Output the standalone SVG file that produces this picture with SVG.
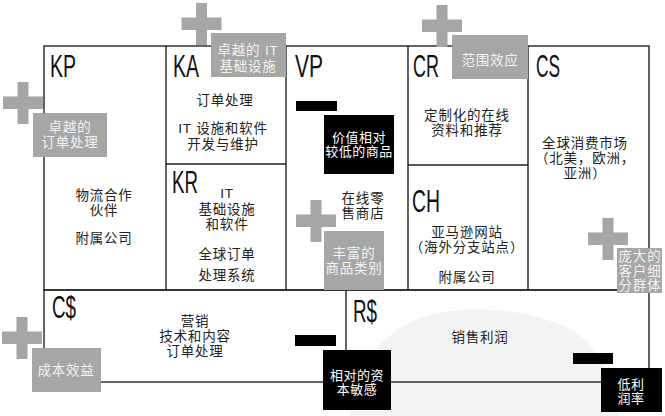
<svg xmlns="http://www.w3.org/2000/svg" xmlns:xlink="http://www.w3.org/1999/xlink" width="665" height="416" viewBox="0 0 665 416">
<style>
.line{fill:none;stroke:#222;stroke-width:1.4}
.hd{font-family:"Liberation Sans",Arial,sans-serif;font-size:32px;fill:#111}
.t{font-family:"Liberation Sans","Noto Sans CJK SC",sans-serif;font-size:13.5px;fill:#222;text-anchor:middle;letter-spacing:0.8px}
.gt{font-family:"Liberation Sans","Noto Sans CJK SC",sans-serif;font-size:13.5px;fill:#f2f2f2;text-anchor:middle;letter-spacing:0.8px}
.bt{font-family:"Liberation Sans","Noto Sans CJK SC",sans-serif;font-size:13px;fill:#fff;text-anchor:middle;letter-spacing:0.5px}
.gray{fill:#a6a6a6}
.blk{fill:#000}
</style>
<defs>
<path id="plus" d="M-5.5,-21 h11 v14.5 h14.5 v12.5 h-14.5 v15 h-11 v-15 h-14.5 v-12.5 h14.5 z"/>
</defs>
<rect width="665" height="416" fill="#fff"/>
<path d="M350,416 C354,372 378,334 420,318 C468,302 530,310 568,328 C600,345 616,380 618,416 Z" fill="#f3f3f3"/>

<g id="connectors">
<rect class="line" x="44" y="46" width="605" height="244"/>
<rect class="line" x="44" y="290" width="605" height="92"/>
<line class="line" x1="166" y1="46" x2="166" y2="290"/>
<line class="line" x1="286" y1="46" x2="286" y2="290"/>
<line class="line" x1="408" y1="46" x2="408" y2="290"/>
<line class="line" x1="528" y1="46" x2="528" y2="290"/>
<line class="line" x1="166" y1="164" x2="286" y2="164"/>
<line class="line" x1="408" y1="165" x2="528" y2="165"/>
<line class="line" x1="346" y1="290" x2="346" y2="382"/>
</g>

<g id="kp">
<text class="hd" x="50" y="77" textLength="26" lengthAdjust="spacingAndGlyphs">KP</text>
<text class="t" x="104" y="200">物流合作</text>
<text class="t" x="104" y="215">伙伴</text>
<text class="t" x="104" y="243">附属公司</text>
<use xlink:href="#plus" href="#plus" class="gray" x="23" y="103"/>
<rect class="gray" x="33" y="113" width="74" height="44"/>
<text class="gt" x="70" y="132">卓越的</text>
<text class="gt" x="70" y="147">订单处理</text>
</g>

<g id="ka">
<text class="hd" x="173" y="77" textLength="26" lengthAdjust="spacingAndGlyphs">KA</text>
<text class="t" x="225" y="105">订单处理</text>
<text class="t" x="223" y="133">IT 设施和软件</text>
<text class="t" x="223" y="149">开发与维护</text>
<use xlink:href="#plus" href="#plus" class="gray" x="201.5" y="24"/>
<rect class="gray" x="211" y="33" width="75" height="44"/>
<text class="gt" x="248" y="55">卓越的 IT</text>
<text class="gt" x="248" y="71">基础设施</text>
</g>

<g id="kr">
<text class="hd" x="172" y="193" textLength="26" lengthAdjust="spacingAndGlyphs">KR</text>
<text class="t" x="227" y="198">IT</text>
<text class="t" x="227" y="214">基础设施</text>
<text class="t" x="227" y="229">和软件</text>
<text class="t" x="227" y="259">全球订单</text>
<text class="t" x="227" y="280">处理系统</text>
</g>

<g id="vp">
<text class="hd" x="295" y="77" textLength="28" lengthAdjust="spacingAndGlyphs">VP</text>
<rect class="blk" x="296" y="101" width="41" height="10"/>
<rect class="blk" x="324" y="115" width="70" height="59"/>
<text class="bt" x="359" y="142">价值相对</text>
<text class="bt" x="359" y="156">较低的商品</text>
<text class="t" x="363" y="203">在线零</text>
<text class="t" x="363" y="218">售商店</text>
<use xlink:href="#plus" href="#plus" class="gray" x="316" y="221"/>
<rect class="gray" x="324" y="231" width="60" height="59"/>
<text class="gt" x="354" y="258">丰富的</text>
<text class="gt" x="354" y="273">商品类别</text>
</g>

<g id="cr">
<text class="hd" x="413" y="77" textLength="26" lengthAdjust="spacingAndGlyphs">CR</text>
<text class="t" x="467" y="120">定制化的在线</text>
<text class="t" x="467" y="135">资料和推荐</text>
<use xlink:href="#plus" href="#plus" class="gray" x="442" y="26"/>
<rect class="gray" x="452" y="35" width="76" height="44"/>
<text class="gt" x="490" y="65">范围效应</text>
</g>

<g id="ch">
<text class="hd" x="412" y="212" textLength="28" lengthAdjust="spacingAndGlyphs">CH</text>
<text class="t" x="467" y="237">亚马逊网站</text>
<text class="t" x="467" y="252">（海外分支站点）</text>
<text class="t" x="467" y="282">附属公司</text>
</g>

<g id="cs">
<text class="hd" x="536" y="77" textLength="24" lengthAdjust="spacingAndGlyphs">CS</text>
<text class="t" x="585" y="148">全球消费市场</text>
<text class="t" x="585" y="163">（北美，欧洲，</text>
<text class="t" x="585" y="178">亚洲）</text>
<use xlink:href="#plus" href="#plus" class="gray" x="608" y="239"/>
<rect class="gray" x="617" y="248" width="45" height="45"/>
<text class="gt" x="640" y="261">庞大的</text>
<text class="gt" x="640" y="275.5">客户细</text>
<text class="gt" x="640" y="290">分群体</text>
</g>

<g id="cost">
<text class="hd" x="52" y="318" textLength="24" lengthAdjust="spacingAndGlyphs">C$</text>
<text class="t" x="195" y="326">营销</text>
<text class="t" x="195" y="341">技术和内容</text>
<text class="t" x="195" y="356">订单处理</text>
<rect class="blk" x="295" y="335" width="41" height="11"/>
<use xlink:href="#plus" href="#plus" class="gray" x="22" y="338"/>
<rect class="gray" x="32" y="348" width="69" height="44"/>
<text class="gt" x="66" y="375">成本效益</text>
</g>

<g id="revenue">
<text class="hd" x="353" y="322" textLength="24" lengthAdjust="spacingAndGlyphs">R$</text>
<text class="t" x="480" y="342">销售利润</text>
<rect class="blk" x="573" y="353" width="40" height="11"/>
<rect class="blk" x="323" y="350" width="68" height="60"/>
<text class="bt" x="357" y="380">相对的资</text>
<text class="bt" x="357" y="394">本敏感</text>
<rect class="blk" x="601" y="368" width="61" height="44"/>
<text class="bt" x="631" y="389">低利</text>
<text class="bt" x="631" y="403">润率</text>
</g>
</svg>
